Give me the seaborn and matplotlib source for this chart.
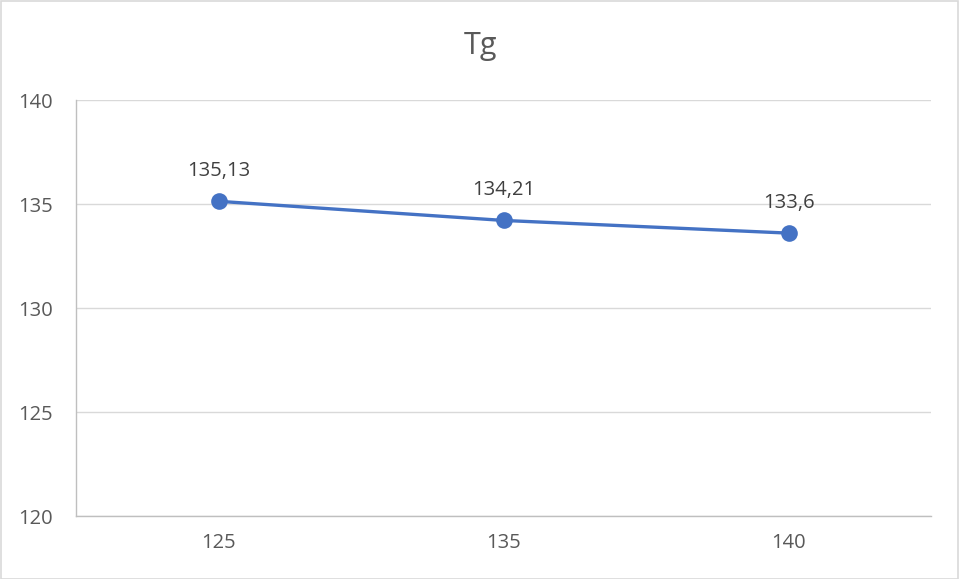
import matplotlib
matplotlib.use("Agg")
import matplotlib.pyplot as plt
import seaborn as sns
import pandas as pd

categories = ["125", "135", "140"]
tg_values = [135.13, 134.21, 133.6]
labels = ["135,13", "134,21", "133,6"]
y_ticks = [120, 125, 130, 135, 140]

sns.set_theme(style="white")
plt.rcParams["font.family"] = ["Open Sans", "DejaVu Sans"]

W, H = 959, 579
fig = plt.figure(figsize=(W / 100, H / 100), dpi=100)
ax = fig.add_axes([76 / W, 1 - 516 / H, (931 - 76) / W, (516 - 100) / H])

df = pd.DataFrame({"cat": categories, "Tg": tg_values})
sns.lineplot(data=df, x="cat", y="Tg", ax=ax, color="#4472C4", linewidth=2.4,
             marker="o", markersize=12, markeredgewidth=0, zorder=3)

ax.set_xlim(-0.5, len(categories) - 0.5)
ax.set_ylim(min(y_ticks), max(y_ticks))
ax.set_yticks(y_ticks)
ax.set_xlabel("")
ax.set_ylabel("")

grid_c = "#D9D9D9"
for y in y_ticks:
    ax.axhline(y, color=grid_c, linewidth=1.0, zorder=1)
for side in ["top", "right"]:
    ax.spines[side].set_visible(False)
for side in ["left", "bottom"]:
    ax.spines[side].set_color("#BFBFBF")
    ax.spines[side].set_linewidth(1.0)

ax.tick_params(axis="both", length=0, labelsize=14.5, labelcolor="#595959")
ax.tick_params(axis="y", pad=16.5)
ax.tick_params(axis="x", pad=12)

for i, (v, t) in enumerate(zip(tg_values, labels)):
    ax.annotate(t, (i, v), xytext=(0, 22), textcoords="offset points",
                ha="center", va="center", fontsize=14.5, color="#404040")

fig.text(480 / W, 1 - 46 / H, "Tg", ha="center", va="center",
         fontsize=22, color="#595959")

# light outer frame
fig.patches.append(plt.Rectangle((0.5 / W, 0.5 / H), 1 - 1.5 / W, 1 - 1.5 / H,
                                 transform=fig.transFigure, fill=False,
                                 edgecolor="#D9D9D9", linewidth=1.2))

fig.savefig("out.png", dpi=100)
